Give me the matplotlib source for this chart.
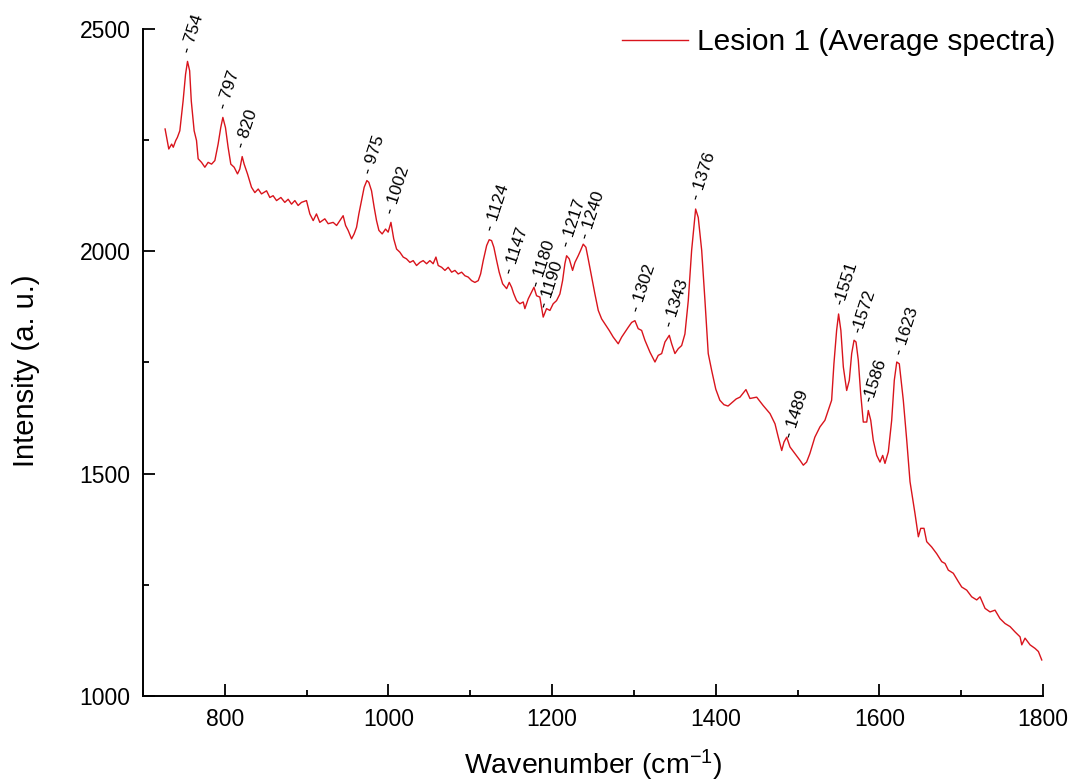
import numpy as np
import matplotlib
matplotlib.use('Agg')
from matplotlib import pyplot as plt
from matplotlib.ticker import MultipleLocator

plt.rcParams['font.family'] = ['Liberation Sans', 'DejaVu Sans']
plt.rcParams['mathtext.default'] = 'regular'

# average Raman spectrum, lesion 1
wavenumber = [
	727, 731.5, 735, 737, 740, 742, 745, 749, 752, 754.4, 757, 759, 762.5, 765.4,
	767.4, 771.5, 775.6, 779.6, 783.8, 787.8, 791.8, 795, 797.6, 800.8, 804, 807.3,
	811.4, 815.5, 818.3, 821.2, 823.6, 827.7, 832.6, 836.7, 840.8, 844.8, 851, 855,
	859, 863.2, 868.5, 873.3, 877.4, 881.5, 885.6, 889.6, 893.7, 899.8, 903.9, 908,
	912, 916.1, 922.2, 926.3, 932.4, 936.6, 940.6, 944.6, 947.6, 950.7, 954.9, 958,
	961, 963.8, 967, 970.3, 973.6, 976, 979.3, 982.5, 985.4, 988.3, 992.3, 996.4,
	999.6, 1003, 1006.4, 1009.9, 1013.9, 1018, 1022, 1026.2, 1030.2, 1034.3, 1038.4,
	1042.4, 1046.6, 1050.6, 1054.6, 1058, 1060.8, 1065, 1069, 1073, 1077.2, 1081.2,
	1085.2, 1089.4, 1093.4, 1097.4, 1101.6, 1105.6, 1109.7, 1112.6, 1115.8, 1120,
	1123.1, 1126, 1128.8, 1132.2, 1135.3, 1139.5, 1144.4, 1147.6, 1150.5, 1153,
	1156.6, 1160.6, 1164.7, 1166.7, 1170.8, 1174.9, 1177.8, 1181, 1185, 1189.1,
	1193.2, 1197.3, 1201.3, 1205.4, 1209.5, 1212.8, 1215.6, 1217.7, 1220.9, 1225,
	1227.9, 1231.9, 1234.8, 1238, 1241.3, 1244.1, 1248.3, 1252.3, 1256.4, 1260.5,
	1264.5, 1269.8, 1274.7, 1280.8, 1285, 1289, 1293, 1297.2, 1301.2, 1305.2, 1309.4,
	1313.4, 1319.6, 1325.7, 1329.7, 1333.9, 1337.9, 1343.2, 1346.1, 1350.1, 1354.2,
	1358.3, 1362.3, 1366.4, 1370.5, 1375.4, 1378.6, 1382.8, 1386.8, 1390.8, 1395,
	1400, 1405, 1410, 1415, 1420, 1425, 1429.6, 1436.9, 1441.8, 1450, 1458, 1466.3,
	1472.4, 1476.4, 1480.6, 1483.4, 1486.7, 1490.7, 1496.8, 1502.9, 1507, 1511, 1515,
	1521.1, 1527.3, 1533.4, 1537.4, 1541.6, 1544.4, 1547.7, 1550.1, 1552.9, 1555.9,
	1560, 1563.2, 1566.1, 1569, 1571.4, 1574.2, 1577.1, 1580.3, 1584.5, 1586.4,
	1589.4, 1592.5, 1596.7, 1600.7, 1604, 1606.8, 1610.9, 1615, 1618.2, 1621.2,
	1624.3, 1629.2, 1633.4, 1637.4, 1643.5, 1647.6, 1650.5, 1654.5, 1657.8, 1663.9,
	1670, 1676.2, 1680.2, 1684.2, 1690.3, 1696.5, 1700.6, 1706.7, 1712.8, 1718.9,
	1723, 1729.1, 1735.2, 1741.3, 1747.4, 1753.5, 1759.7, 1765.8, 1771.9, 1774, 1778,
	1784.1, 1790.2, 1794.3, 1798.4]
intensity = [
	2275, 2230, 2241, 2234, 2249, 2256, 2271, 2338, 2398, 2427, 2406, 2338, 2271, 2249,
	2208, 2200, 2189, 2200, 2196, 2204, 2241, 2278, 2301, 2278, 2234, 2196,
	2189, 2174, 2185, 2213, 2196, 2174, 2144, 2132, 2140, 2129, 2136, 2121,
	2125, 2114, 2121, 2110, 2117, 2106, 2114, 2103, 2110, 2114, 2084, 2069,
	2084, 2065, 2073, 2062, 2065, 2058, 2069, 2080, 2058, 2047, 2028, 2039,
	2054, 2084, 2114, 2144, 2159, 2155, 2136, 2099, 2069, 2047, 2039, 2050,
	2043, 2065, 2028, 2005, 1998, 1987, 1983, 1975, 1979, 1968, 1975,
	1979, 1972, 1979, 1972, 1987, 1968, 1964, 1957, 1964, 1953, 1957,
	1949, 1953, 1945, 1942, 1934, 1930, 1934, 1949, 1979, 2013,
	2026, 2024, 2009, 1979, 1953, 1927, 1916, 1930, 1919, 1905,
	1889, 1882, 1886, 1871, 1893, 1908, 1919, 1900, 1897, 1852,
	1871, 1867, 1882, 1889, 1904, 1934, 1972, 1990, 1983, 1957,
	1975, 1990, 2002, 2016, 2009, 1983, 1942, 1904, 1867, 1848,
	1837, 1822, 1807, 1792, 1807, 1818, 1829, 1840, 1844, 1826, 1822,
	1800, 1773, 1751, 1766, 1770, 1796, 1811, 1792, 1770, 1781,
	1788, 1814, 1889, 2002, 2095, 2076, 2002, 1889, 1770, 1732,
	1690, 1665, 1655, 1652, 1660, 1668, 1672, 1689, 1669, 1672, 1653, 1635,
	1612, 1582, 1552, 1571, 1582, 1560, 1545, 1530, 1519, 1526, 1545,
	1582, 1605, 1620, 1642, 1665, 1747, 1822, 1859, 1822, 1740,
	1687, 1710, 1770, 1800, 1796, 1755, 1680, 1616, 1616, 1642,
	1620, 1575, 1541, 1526, 1541, 1523, 1549, 1620, 1710, 1751,
	1747, 1665, 1575, 1482, 1410, 1358, 1377, 1377, 1347, 1335,
	1320, 1302, 1298, 1283, 1276, 1257, 1245, 1238, 1223, 1216,
	1223, 1197, 1189, 1193, 1174, 1163, 1156, 1144, 1133, 1115, 1130,
	1115, 1107, 1100, 1081]

peak_wn = [754, 797, 820, 975, 1002, 1124, 1147, 1180, 1190, 1217, 1240,
	1302, 1343, 1376, 1489, 1551, 1572, 1586, 1623]
peak_text = ['- 754', '- 797', '- 820', '- 975', '- 1002', '- 1124', '- 1147',
	'- 1180', '- 1190', '- 1217', '- 1240', '- 1302', '- 1343', '- 1376',
	'- 1489', '-1551', '-1572', '-1586', '- 1623']

fig = plt.figure(figsize=(10.72, 7.82), dpi=100)
ax = fig.add_axes([0.1334, 0.110, 0.8396, 0.853])

ax.plot(wavenumber, intensity, color='#d9141c', lw=1.0,
	label='Lesion 1 (Average spectra)')

# peak annotations, rotated, dash sitting just above the curve
x_arr = np.array(wavenumber)
y_arr = np.array(intensity)
for wn, txt in zip(peak_wn, peak_text):
	y_here = y_arr[np.argmin(np.abs(x_arr - wn))]
	ax.annotate(txt, xy=(wn, y_here), xytext=(0, 6.5),
		textcoords='offset points', rotation=72, rotation_mode='anchor',
		ha='left', va='center', fontsize=12.5)

ax.set_xlim(700, 1800)
ax.set_ylim(1000, 2500)
ax.xaxis.set_major_locator(MultipleLocator(200))
ax.xaxis.set_minor_locator(MultipleLocator(100))
ax.yaxis.set_major_locator(MultipleLocator(500))
ax.yaxis.set_minor_locator(MultipleLocator(250))
ax.tick_params(which='both', direction='in', width=1.3, labelsize=16.5)
ax.tick_params(which='major', length=8.5)
ax.tick_params(which='minor', length=4.5)
ax.tick_params(axis='x', pad=9)
ax.tick_params(axis='y', pad=9)
for side in ['top', 'right']:
	ax.spines[side].set_visible(False)
for side in ['left', 'bottom']:
	ax.spines[side].set_linewidth(1.4)

ax.set_xlabel('Wavenumber (cm$^{-1}$)', fontsize=20.5)
ax.set_ylabel('Intensity (a. u.)', fontsize=21)
ax.xaxis.set_label_coords(0.5, -0.078)
ax.yaxis.set_label_coords(-0.114, 0.487)

ax.legend(loc='upper right', frameon=False, fontsize=21.5,
	bbox_to_anchor=(1055 / 1072, 1 - 28 / 782), bbox_transform=fig.transFigure,
	borderpad=0, borderaxespad=0, handlelength=2.2, handletextpad=0.3)

plt.savefig('out.png', dpi=100)
